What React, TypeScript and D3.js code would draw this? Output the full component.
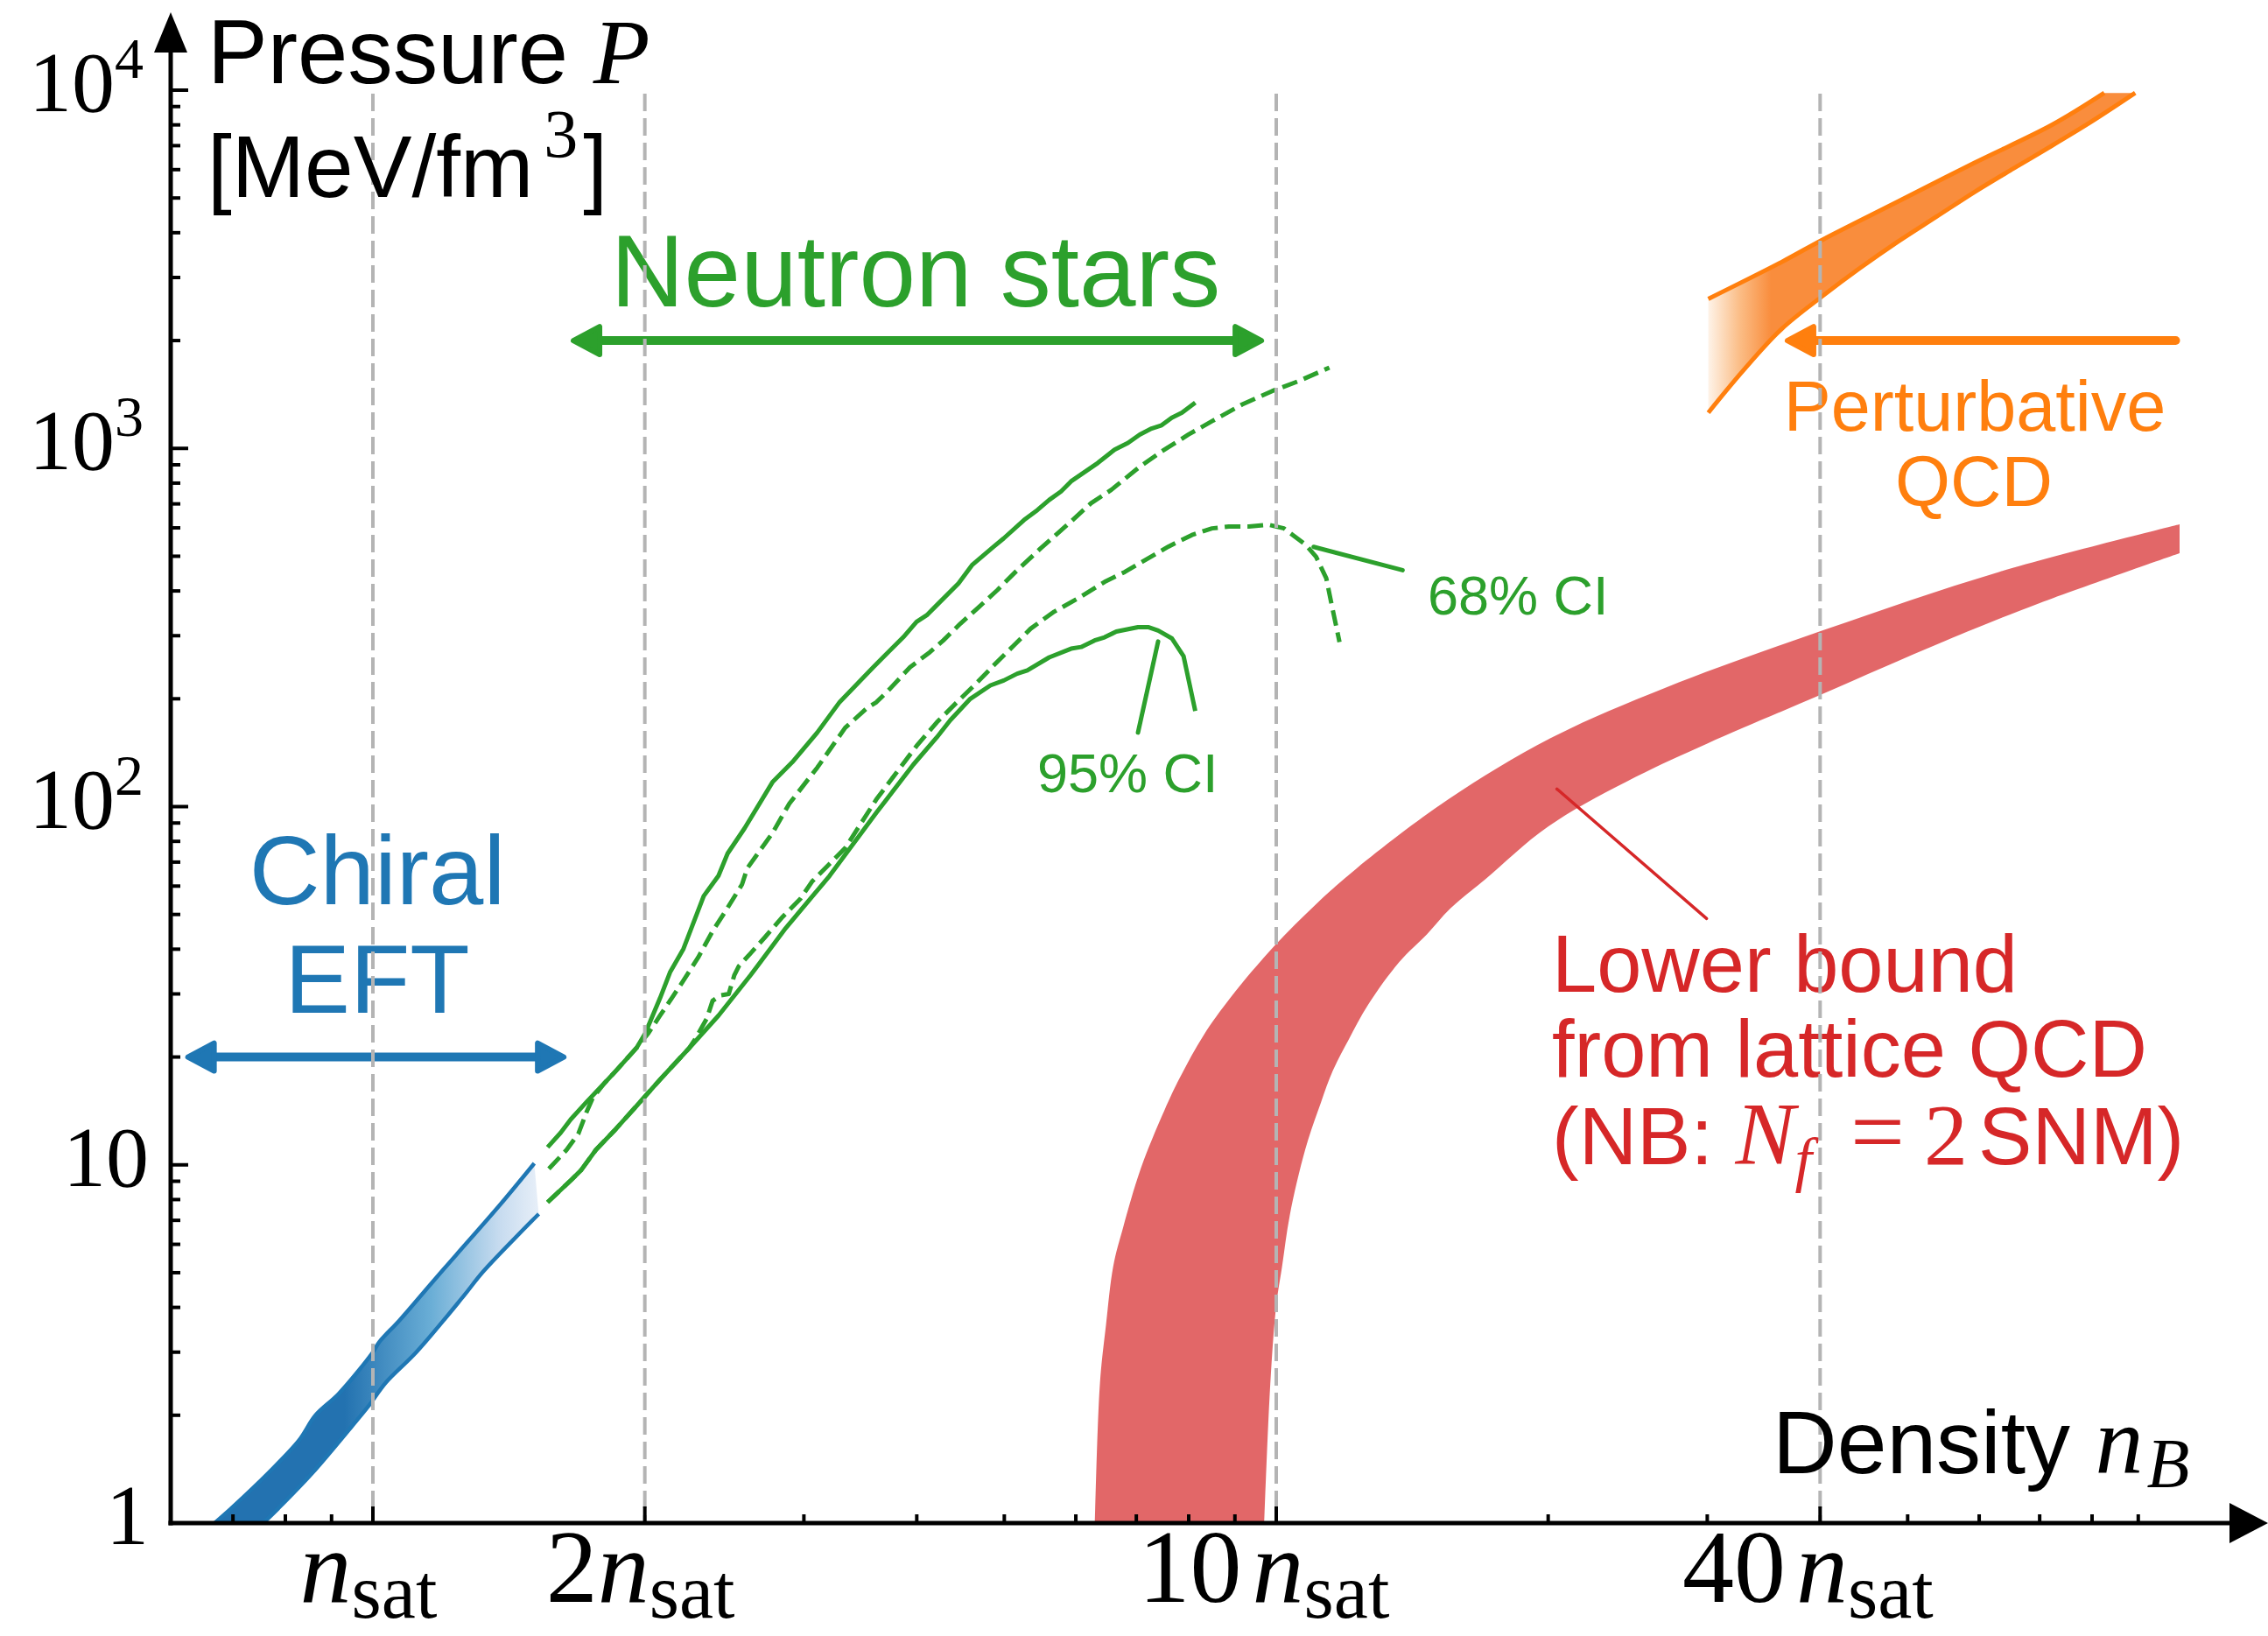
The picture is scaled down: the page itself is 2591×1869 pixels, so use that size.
import React from 'react';
import * as d3 from 'd3';

// density in units of n_sat, pressure in MeV/fm^3

const chiralUpper = [[0.668, 1.0], [0.697, 1.10], [0.766, 1.38], [0.828, 1.70], [0.864, 2.0], [0.917, 2.30], [1.0, 3.0], [1.016, 3.20], [1.070, 3.68], [1.165, 4.72], [1.237, 5.61], [1.383, 7.74], [1.509, 10.1]];
const chiralLower = [[0.756, 1.0], [0.786, 1.10], [0.857, 1.38], [0.949, 1.87], [0.990, 2.13], [1.034, 2.47], [1.117, 3.0], [1.259, 4.29], [1.325, 5.04], [1.526, 7.29]];

const ns95Upper = [[1.561, 11.2], [1.614, 12.3], [1.656, 13.4], [1.725, 15.0], [1.804, 16.9], [1.858, 18.3], [1.958, 21.2], [2.002, 23.3], [2.079, 29.2], [2.134, 34.6], [2.207, 40.1], [2.324, 56.3], [2.413, 64.1], [2.47, 74], [2.579, 87], [2.769, 117], [2.912, 133], [3.104, 161], [3.287, 196], [3.608, 250], [3.864, 297], [3.998, 328], [4.102, 342], [4.209, 365], [4.449, 420], [4.604, 472], [4.868, 532], [4.993, 561], [5.258, 631], [5.44, 673], [5.606, 718], [5.777, 758], [5.927, 809], [6.347, 911], [6.622, 992], [6.853, 1036], [7.062, 1093], [7.277, 1136], [7.467, 1160], [7.662, 1218], [7.862, 1257], [8.135, 1341]];
const ns95Lower = [[1.561, 7.86], [1.656, 9.05], [1.70, 9.66], [1.765, 11.0], [1.858, 12.6], [1.958, 14.6], [2.079, 17.3], [2.24, 21.2], [2.413, 26.1], [2.62, 33.9], [2.68, 36.6], [2.864, 45.8], [3.086, 57.3], [3.203, 64.1], [3.608, 96.1], [3.965, 131], [4.209, 156], [4.355, 174], [4.585, 200], [4.826, 218], [4.993, 225], [5.167, 235], [5.302, 240], [5.606, 261], [5.927, 276], [6.081, 279], [6.293, 291], [6.456, 297], [6.652, 308], [7.03, 317], [7.214, 317], [7.402, 310], [7.662, 295], [7.896, 263], [8.135, 185]];
const ns68Upper = [[1.566, 9.75], [1.638, 11.0], [1.688, 12.2], [1.725, 14.1], [1.752, 15.4], [1.804, 16.9], [1.858, 18.3], [1.958, 21.2], [2.018, 23.3], [2.079, 26.1], [2.142, 29.2], [2.207, 32.7], [2.291, 37.9], [2.377, 44.9], [2.458, 51.2], [2.562, 60.6], [2.597, 67.3], [2.769, 84.4], [2.891, 102], [3.104, 128.5], [3.333, 166], [3.528, 189], [3.608, 195.5], [3.734, 213], [3.932, 245], [4.137, 270], [4.28, 291], [4.469, 324], [4.665, 357], [4.911, 402], [5.167, 457], [5.486, 526], [5.927, 625], [6.237, 703], [6.567, 766], [7.03, 881], [7.467, 981], [7.995, 1093], [8.49, 1191], [9.17, 1327], [9.90, 1446], [10.6, 1543], [11.45, 1681]];
const ns68Lower = [[1.561, 7.86], [1.656, 9.05], [1.70, 9.66], [1.765, 11.0], [1.858, 12.6], [1.958, 14.6], [2.079, 17.3], [2.24, 21.2], [2.273, 22.4], [2.342, 25.6], [2.377, 28.7], [2.423, 29.7], [2.477, 30.0], [2.513, 33.9], [2.542, 35.9], [2.62, 39.0], [2.719, 43.3], [2.843, 49.3], [2.972, 55.2], [3.063, 61.8], [3.333, 76.6], [3.608, 104.7], [3.798, 124.4], [3.998, 147.7], [4.209, 171.8], [4.43, 195.5], [4.665, 222], [4.868, 248], [5.124, 282], [5.348, 314], [5.677, 350], [6.029, 381], [6.456, 424], [6.797, 452], [7.214, 493], [7.597, 532], [8.066, 573], [8.49, 598], [8.86, 605], [9.327, 605], [9.815, 612], [10.2, 598], [10.79, 537], [11.07, 498], [11.36, 434], [11.5, 373], [11.75, 288]];

const latticeUpper = [[6.30, 1.0], [6.38, 2.45], [6.48, 3.58], [6.60, 5.21], [6.77, 6.70], [7.08, 9.76], [7.52, 14.2], [7.83, 17.6], [8.31, 23.0], [8.91, 29.4], [9.95, 40.8], [11.1, 53.8], [12.27, 67.2], [15.5, 104.7], [20.1, 155], [27.0, 215], [40.5, 312], [63.1, 452], [100, 614]];
const latticeLower = [[9.70, 1.0], [9.85, 2.45], [10.0, 4.05], [10.15, 5.21], [10.35, 7.22], [10.77, 11.07], [11.21, 14.96], [11.55, 18.3], [12.02, 22.3], [12.64, 28.0], [13.69, 36.9], [14.68, 44.0], [15.58, 51.9], [17.04, 62.7], [20, 88], [25, 121], [30, 150], [40, 205], [55, 290], [70, 370], [100, 510]];

const pqcdUpper = [[30.08, 2614], [36.26, 3313], [40.32, 3833], [48.72, 4880], [59.35, 6279], [72.27, 8005], [82.53, 9822]];
const pqcdLower = [[30.08, 1258], [32.86, 1646], [36.26, 2154], [40.32, 2671], [44.17, 3172], [48.72, 3770], [53.78, 4430], [59.35, 5204], [65.5, 6047], [72.27, 7005], [79.75, 8147], [89.3, 9822]];

// range arrows: [n from, n to, P]
const chiralRange = [0.624, 1.627, 20];
const nsRange = [1.667, 9.63, 2000];
const pqcdRange = [36.8, 99, 2000];

// pointer lines [[n, P], [n, P]]
const ci68Pointer = [[11.0, 531], [13.8, 457]];
const ci95Pointer = [[7.40, 289], [7.03, 161]];
const latticePointer = [[20.45, 112], [29.95, 48.7]];

const xMajor = [1, 2, 10, 40];
const xMajorPrefix = ['', '2', '10', '40'];
const yMajor = [1, 10, 100, 1000, 10000];
const yMajorLabel = ['1', '10', '10^2', '10^3', '10^4'];
const xMinor = [0.7, 0.8, 0.9, 3, 4, 5, 6, 7, 8, 9, 20, 30, 50, 60, 70, 80, 90];
const yMinor = [1, 10, 100, 1000].flatMap(d => [2, 3, 4, 5, 6, 7, 8, 9].map(m => m * d));

const SANS = 'Liberation Sans, Arial, Helvetica, sans-serif';
const SERIF = 'Liberation Serif, Times New Roman, serif';
const BLUE = '#1f77b4';
const GREEN = '#2ca02c';
const ORANGE = '#ff7f0e';
const RED = '#d62728';

const x = d3.scaleLog().domain([1, 100]).range([426, 2490]);
const y = d3.scaleLog().domain([1, 1e4]).range([1740, 103]);

const line = d3.line<number[]>().x(d => x(d[0])).y(d => y(d[1]));
const smooth = d3.line<number[]>().x(d => x(d[0])).y(d => y(d[1])).curve(d3.curveCatmullRom.alpha(0.5));

function band(upper: number[][], lower: number[][]) {
  const a = smooth(upper) as string;
  const b = smooth([...lower].reverse()) as string;
  return a + 'L' + b.slice(1) + 'Z';
}

function Arrow({ x1, x2, yy, color, both }: { x1: number; x2: number; yy: number; color: string; both: boolean }) {
  const L = 30, h = 16;
  const head = (tip: number, dir: number) =>
    `${tip},${yy} ${tip - dir * L},${yy - h} ${tip - dir * L},${yy + h}`;
  return (
    <g fill={color} stroke={color} strokeLinejoin="round">
      <line x1={x1 + L - 2} x2={both ? x2 - L + 2 : x2} y1={yy} y2={yy} strokeWidth={10} strokeLinecap="round" />
      <polygon points={head(x1, -1)} strokeWidth={6} />
      {both && <polygon points={head(x2, 1)} strokeWidth={6} />}
    </g>
  );
}

export default function App() {
  const axisX = 195;
  const axisY = y(1);
  const top = y(1e4);
  return (
    <svg width={2591} height={1869} style={{ position: 'absolute', left: 0, top: 0, background: '#fff' }}
      fontFamily={SANS}>
      <defs>
        <linearGradient id="chiralFade" gradientUnits="userSpaceOnUse" x1={x(0.93)} x2={x(1.52)} y1={0} y2={0}>
          <stop offset="0" stopColor="#2372b0" />
          <stop offset="0.45" stopColor="#6aaed6" />
          <stop offset="0.8" stopColor="#c6dbef" />
          <stop offset="1" stopColor="#e6eef8" />
        </linearGradient>
        <linearGradient id="pqcdFade" gradientUnits="userSpaceOnUse" x1={x(30.08)} x2={x(35.3)} y1={0} y2={0}>
          <stop offset="0" stopColor="#fef3e8" />
          <stop offset="0.5" stopColor="#fbbd86" />
          <stop offset="1" stopColor="#f98d3d" />
        </linearGradient>
      </defs>

      {/* lattice lower bound */}
      <path d={band(latticeUpper, latticeLower)} fill={RED} fillOpacity={0.7} />

      {/* chiral EFT band */}
      <path d={band(chiralUpper, chiralLower)} fill="url(#chiralFade)" />
      <path d={smooth(chiralUpper) as string} fill="none" stroke={BLUE} strokeWidth={4.5} />
      <path d={smooth(chiralLower) as string} fill="none" stroke={BLUE} strokeWidth={4.5} />

      {/* perturbative QCD band */}
      <path d={band(pqcdUpper, pqcdLower)} fill="url(#pqcdFade)" />
      <path d={smooth(pqcdUpper) as string} fill="none" stroke={ORANGE} strokeWidth={5} />
      <path d={smooth(pqcdLower) as string} fill="none" stroke={ORANGE} strokeWidth={5} />

      {/* neutron star credible intervals */}
      <g fill="none" stroke={GREEN} strokeWidth={5} strokeLinejoin="round">
        <path d={line(ns95Upper) as string} />
        <path d={line(ns95Lower) as string} />
        <path d={line(ns68Upper) as string} strokeDasharray="18 8" />
        <path d={line(ns68Lower) as string} strokeDasharray="18 8" />
      </g>
      <g stroke={GREEN} strokeWidth={5} strokeLinecap="round">
        <line x1={x(ci68Pointer[0][0])} y1={y(ci68Pointer[0][1])} x2={x(ci68Pointer[1][0])} y2={y(ci68Pointer[1][1])} />
        <line x1={x(ci95Pointer[0][0])} y1={y(ci95Pointer[0][1])} x2={x(ci95Pointer[1][0])} y2={y(ci95Pointer[1][1])} />
      </g>
      <line x1={x(latticePointer[0][0])} y1={y(latticePointer[0][1])} x2={x(latticePointer[1][0])} y2={y(latticePointer[1][1])}
        stroke={RED} strokeWidth={3.5} strokeLinecap="round" />

      {/* range arrows */}
      <Arrow x1={x(chiralRange[0])} x2={x(chiralRange[1])} yy={y(chiralRange[2])} color={BLUE} both />
      <Arrow x1={x(nsRange[0])} x2={x(nsRange[1])} yy={y(nsRange[2])} color={GREEN} both />
      <Arrow x1={x(pqcdRange[0])} x2={x(pqcdRange[1])} yy={y(pqcdRange[2])} color={ORANGE} both={false} />

      {/* labels */}
      <g fill={BLUE} fontSize={112} textAnchor="middle">
        <text x={431} y={1033}>Chiral</text>
        <text x={431} y={1157}>EFT</text>
      </g>
      <text x={1046} y={350} fill={GREEN} fontSize={116} textAnchor="middle">Neutron stars</text>
      <text x={1631} y={702} fill={GREEN} fontSize={63}>68% CI</text>
      <text x={1185} y={905} fill={GREEN} fontSize={63}>95% CI</text>
      <g fill={ORANGE} fontSize={81} textAnchor="middle">
        <text x={2256} y={492}>Perturbative</text>
        <text x={2255} y={578}>QCD</text>
      </g>
      <g fill={RED} fontSize={92}>
        <text x={1773} y={1133}>Lower bound</text>
        <text x={1773} y={1230}>from lattice QCD</text>
        <text x={1773} y={1330}>(NB: <tspan fontFamily={SERIF} fontStyle="italic" fontSize={102}>N</tspan>
          <tspan fontFamily={SERIF} fontStyle="italic" fontSize={70} dy={18}>f</tspan>
          <tspan fontFamily={SERIF} fontSize={110} dy={-18} dx={44}>=</tspan>
          <tspan fontFamily={SERIF} fontSize={100} dx={22}>2</tspan>
          <tspan dx={12}>SNM)</tspan></text>
      </g>

      {/* grid */}
      <g stroke="#b4b4b4" strokeWidth={4} strokeDasharray="20 8">
        {xMajor.map(v => <line key={v} x1={x(v)} x2={x(v)} y1={top + 4} y2={axisY} />)}
      </g>

      {/* axes */}
      <g stroke="#000" strokeWidth={5}>
        <line x1={axisX} x2={axisX} y1={axisY + 2.5} y2={50} />
        <line x1={axisX - 2.5} x2={2552} y1={axisY} y2={axisY} />
        {yMajor.map(v => <line key={'ym' + v} x1={axisX} x2={axisX + 20} y1={y(v)} y2={y(v)} strokeWidth={4} />)}
        {yMinor.map(v => <line key={'yn' + v} x1={axisX} x2={axisX + 11} y1={y(v)} y2={y(v)} strokeWidth={4} />)}
        {xMajor.map(v => <line key={'xm' + v} x1={x(v)} x2={x(v)} y1={axisY} y2={axisY - 19} strokeWidth={4} />)}
        {xMinor.map(v => <line key={'xn' + v} x1={x(v)} x2={x(v)} y1={axisY} y2={axisY - 10} strokeWidth={4} />)}
      </g>
      <polygon points={`${axisX},14 ${axisX - 19},60 ${axisX + 19},60`} fill="#000" />
      <polygon points={`2591,${axisY} 2547,${axisY - 23} 2547,${axisY + 23}`} fill="#000" />

      {/* tick labels */}
      <g fontFamily={SERIF} fontSize={98} textAnchor="end">
        {yMajor.map((v, i) => {
          const [base, sup] = yMajorLabel[i].split('^');
          return (
            <text key={v} x={sup ? 164 : 170} y={y(v) + 24}>{base}
              {sup && <tspan fontSize={66} dy={-38}>{sup}</tspan>}
            </text>
          );
        })}
      </g>
      <g fontFamily={SERIF} fontSize={118} textAnchor="middle">
        {xMajor.map((v, i) => (
          <text key={v} x={x(v) - (xMajorPrefix[i].length > 1 ? 14 : 5)} y={1830}>{xMajorPrefix[i]}
            <tspan fontStyle="italic" dx={xMajorPrefix[i].length > 1 ? 12 : 0}>n</tspan>
            <tspan fontSize={88} dy={18}>sat</tspan>
          </text>
        ))}
      </g>

      {/* axis titles */}
      <text x={237} y={95} fontSize={103}>Pressure <tspan fontFamily={SERIF} fontStyle="italic" fontSize={106}>P</tspan></text>
      <text x={237} y={225} fontSize={100}>[MeV/fm<tspan fontFamily={SERIF} fontSize={78} dy={-46} dx={12}>3</tspan>
        <tspan dy={46} dx={6}>]</tspan></text>
      <text x={2025} y={1683} fontSize={102}>Density <tspan fontFamily={SERIF} fontStyle="italic" fontSize={110}>n</tspan>
        <tspan fontFamily={SERIF} fontStyle="italic" fontSize={80} dx={4} dy={16}>B</tspan></text>
    </svg>
  );
}
